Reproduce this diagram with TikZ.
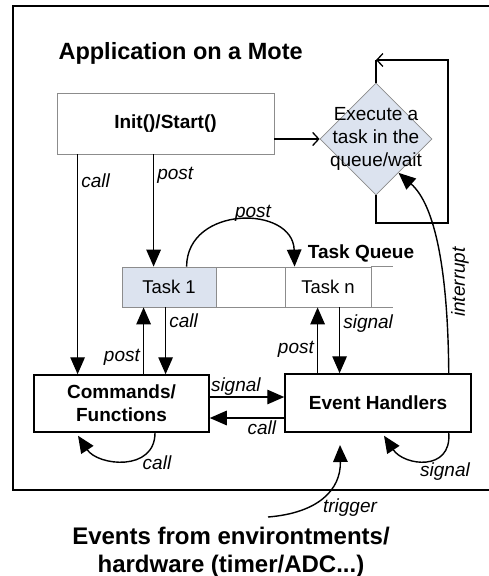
\documentclass[tikz,border=0pt]{standalone}
\usepackage{fontspec}
\setmainfont{Liberation Sans}
\usepackage{xcolor}
\usetikzlibrary{arrows.meta,shapes.geometric,calc}
\definecolor{taskblue}{HTML}{DCE3EF}
\definecolor{cellgray}{HTML}{8C8C8C}

\begin{document}
\begin{tikzpicture}[x=1pt, y=-1pt,
    box/.style={draw=black, line width=1.5pt, inner sep=0pt, font=\fontsize{19}{23}\selectfont\bfseries, align=center},
    graybox/.style={draw=cellgray, line width=0.8pt, inner sep=0pt},
    cell/.style={graybox, minimum height=40pt, font=\fontsize{18.5}{22}\selectfont},
    arr/.style={line width=1.4pt, -{Triangle[length=17pt,width=14.5pt]}},
    lbl/.style={font=\fontsize{19}{22}\selectfont\itshape, inner sep=3pt}]
\useasboundingbox (0,0) rectangle (489,576);
% frame
\draw[line width=1.5pt] (489,6) -- (13,6) -- (13,490) -- (489,490);
\node[anchor=base west, font=\fontsize{23.5}{27}\selectfont\bfseries] (title) at (55,59) {Application on a Mote};

% boxes
\node[graybox, minimum width=217pt, minimum height=61pt, font=\fontsize{19}{23}\selectfont\bfseries] (init) at (165.5,123.5) {Init()/Start()};
\node[diamond, draw=cellgray, fill=taskblue, line width=0.8pt, inner sep=0pt, minimum width=112pt, minimum height=112pt] (exec) at (376,139) {};
\node[align=center, font=\fontsize{19}{23}\selectfont] (exectext) at (exec.center) {Execute a\\task in the\\queue/wait};

% task queue
\node[cell, fill=taskblue, minimum width=94pt] (task1) at (169,287) {Task 1};
\node[cell, minimum width=69pt] (tempty) at (250.5,287) {};
\node[cell, minimum width=86pt] (taskn) at (328,287) {Task n};
\draw[cellgray, line width=0.8pt] (taskn.north east) -- ++(22,0);
\draw[cellgray, line width=0.8pt] (taskn.south east) -- ++(22,0);
\node[font=\fontsize{19}{23}\selectfont\bfseries] (qlabel) at (361,253) {Task Queue};

\node[box, minimum width=175pt, minimum height=57pt] (cmd) at (121.5,403.5) {Commands/\\Functions};
\node[box, minimum width=186pt, minimum height=58pt] (evh) at (378,403) {Event Handlers};

% exec loop
\coordinate (loopbl) at (376,223);
\coordinate (looptr) at (448,60);
\draw[line width=1.3pt] (exec.north) -- (exec.north |- looptr);
\draw[line width=1.3pt, -{Straight Barb[length=6pt,width=13pt]}] (exec.south) -- (loopbl) -| (looptr) -- (exec.north |- looptr);
\draw[line width=1.3pt, -{Straight Barb[length=6pt,width=13pt]}] (init.east |- exec.west) -- (exec.west);

% from init
\draw[arr] ([xshift=21pt]init.south west) -- ([xshift=21pt]init.south west |- cmd.north) node[lbl, right, pos=.12] {call};
\draw[arr] ([xshift=32pt]task1.north west |- init.south) -- ([xshift=32pt]task1.north west) node[lbl, right, pos=.19] {post};

% queue arrows
\draw[arr] ([xshift=65pt]task1.north west) .. controls (187,205) and (293,205) .. ([xshift=10pt]taskn.north west);
\node[lbl] (postq) at (253,213) {post};
\draw[arr] ([xshift=22pt]task1.south west |- cmd.north) -- ([xshift=22pt]task1.south west) node[lbl, left, pos=.25] {post};
\draw[arr] ([xshift=44pt]task1.south west) -- ([xshift=44pt]task1.south west |- cmd.north) node[lbl, right, pos=.2] {call};
\draw[arr] ([xshift=33pt]taskn.south west |- evh.north) -- ([xshift=33pt]taskn.south west) node[lbl, left, pos=.37] {post};
\draw[arr] ([xshift=55pt]taskn.south west) -- ([xshift=55pt]taskn.south west |- evh.north) node[lbl, right, pos=.24] {signal};

% between boxes
\draw[arr] ([yshift=6.5pt]cmd.east) -- ([yshift=6.5pt]cmd.east -| evh.west) node[lbl, above, pos=.35, inner sep=1pt] {signal};
\draw[arr] ([yshift=-14.5pt]cmd.east -| evh.west) -- ([yshift=-14.5pt]cmd.east) node[lbl, below, pos=.3, inner sep=2pt] {call};

% interrupt
\coordinate (inttip) at ($(exec.east)!0.6!(exec.south)$);
\draw[arr] ([xshift=-23pt]evh.north east) .. controls (448,270) and (435,205) .. (inttip);
\node[lbl, rotate=90] (intlbl) at (460,282) {interrupt};

% self loops
\draw[arr] ([xshift=33.5pt]cmd.south) .. controls (155,472) and (98,466) .. ([xshift=-43.5pt, yshift=-3pt]cmd.south);
\node[lbl] (cmdself) at (157,463) {call};
\draw[arr] ([xshift=-23pt]evh.south east) .. controls (452,472) and (404,466) .. ([xshift=6pt, yshift=-3pt]evh.south);
\node[lbl] (evhself) at (445,472) {signal};

% trigger
\coordinate (trigstart) at (268,517);
\coordinate (trigtip) at (340,445);
\draw[arr] (trigstart) .. controls (318,513) and (341,490) .. (trigtip);
\node[lbl] (triglbl) at (350,508) {trigger};

\node[align=center, font=\fontsize{24}{28}\selectfont\bfseries] (events) at (231,552) {Events from environtments/\\hardware (timer/ADC...)};
\end{tikzpicture}
\end{document}
